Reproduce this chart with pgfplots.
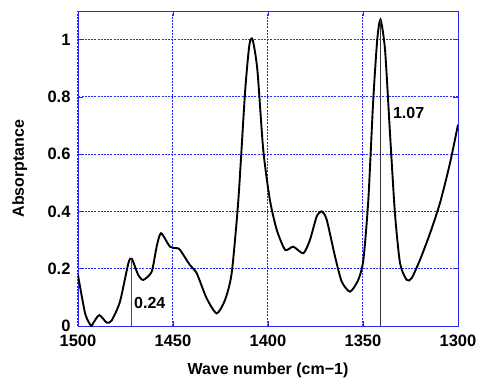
\documentclass[border=0pt]{standalone}
\usepackage{pgfplots}
\pgfplotsset{compat=1.18}
\usepackage{fontspec}
\setmainfont{Liberation Sans}
\definecolor{gridblue}{RGB}{40,40,250}
\begin{document}
\begin{tikzpicture}
\path[use as bounding box] (-78pt,-54pt) rectangle (403pt,326pt);
\begin{axis}[
  at={(0,0)}, anchor=south west,
  scale only axis, width=380pt, height=315pt,
  x dir=reverse,
  xmin=1300, xmax=1500, ymin=0, ymax=1.10,
  xtick={1300,1350,...,1500},
  ytick={0,0.2,0.4,0.6,0.8,1},
  yticklabels={0,0.2,0.4,0.6,0.8,1},
  xticklabels={1300,1350,1400,1450,1500},
  axis line style={draw=gridblue, line width=0.9pt},
  tick style={draw=gridblue, line width=0.7pt},
  tick align=inside,
  major tick length=5pt,
  xmajorgrids, ymajorgrids,
  major grid style={draw=gridblue, line width=1pt, dash pattern=on 2pt off 1.2pt},
  ticklabel style={font=\fontsize{16.5}{18}\selectfont\bfseries},
  /pgf/number format/assume math mode=true,
  xlabel={Wave number (cm\textminus1)},
  ylabel={Absorptance},
  label style={font=\fontsize{16}{18}\selectfont\bfseries},
  xlabel style={at={(axis description cs:0.5,-0.14)}, anchor=center},
  ylabel style={at={(axis description cs:-0.153,0.5)}, anchor=center},
  xticklabel style={yshift=-5pt},
  yticklabel style={xshift=-4pt},
]
\addplot[black, line width=1.9pt, smooth, tension=0.4] coordinates {
(1500,0.178) (1496.3,0.045) (1493.7,0.006) (1492.8,0.0) (1492,0.01)
(1488.8,0.038) (1484.9,0.012) (1482.3,0.019) (1477.9,0.085) (1473.5,0.219)
(1471.7,0.235) (1468.3,0.178) (1465.6,0.161) (1461.2,0.19) (1458.6,0.277)
(1456.3,0.324) (1451.6,0.277) (1448.1,0.272) (1446.3,0.266) (1441.1,0.213)
(1437.5,0.184) (1432.3,0.097) (1427,0.044) (1422.6,0.091) (1419.1,0.185)
(1415.6,0.44) (1412.1,0.814) (1409.8,0.982) (1408.1,1.0) (1405.6,0.895)
(1402.5,0.615) (1399,0.44) (1395.4,0.336) (1391,0.266) (1386.7,0.277)
(1381.4,0.254) (1377.9,0.301) (1374.4,0.382) (1371.7,0.40) (1369.1,0.371)
(1364.7,0.242) (1361.2,0.155) (1356.8,0.12) (1352.5,0.161) (1349.8,0.231)
(1347.2,0.44) (1344.6,0.79) (1342.5,1.0) (1340.8,1.07) (1338.4,0.965)
(1335.8,0.674) (1333.2,0.395) (1330.5,0.219) (1327,0.161) (1324.4,0.167)
(1320,0.231) (1314.7,0.324) (1309.5,0.429) (1304.2,0.569) (1300,0.703)
};
\addplot[black!70, line width=0.7pt] coordinates {(1471.7,0) (1471.7,0.235)};
\addplot[black!80, line width=0.7pt] coordinates {(1341,0) (1341,1.07)};
\node[font=\fontsize{16}{18}\selectfont\bfseries, anchor=west, inner sep=0pt] at (axis cs:1470.5,0.08) {0.24};
\node[font=\fontsize{16}{18}\selectfont\bfseries, anchor=west, inner sep=0pt] at (axis cs:1334.3,0.745) {1.07};
\end{axis}
\end{tikzpicture}
\end{document}
